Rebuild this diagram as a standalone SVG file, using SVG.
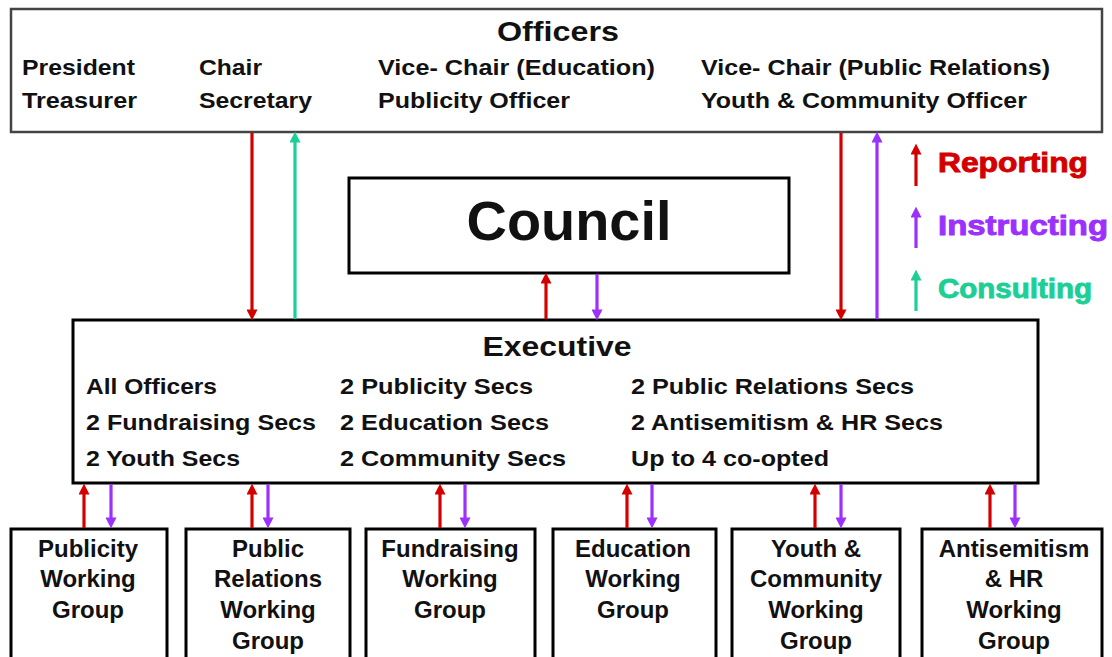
<svg xmlns="http://www.w3.org/2000/svg" width="1112" height="657" viewBox="0 0 1112 657">
<style>
  .box { fill: #ffffff; stroke: #000000; stroke-width: 3; }
  .obox { fill: #ffffff; stroke: #444444; stroke-width: 2.5; }
  text { font-family: "Liberation Sans", Arial, sans-serif; font-weight: bold; fill: #111111; }
  .title { font-size: 28px; text-anchor: middle; }
  .row { font-size: 22px; }
  .wg { font-size: 24px; text-anchor: middle; }
  .council { font-size: 56px; text-anchor: middle; }
  .leg { font-size: 27px; stroke-width: 0.9; }
  .r { stroke: #d40000; stroke-width: 3.2; fill: none; }
  .p { stroke: #9b30ff; stroke-width: 3.2; fill: none; }
  .g { stroke: #1ccf96; stroke-width: 3.2; fill: none; }
</style>
<defs>
  <marker id="ar" viewBox="0 0 10 10" refX="6" refY="5" markerWidth="11" markerHeight="11" markerUnits="userSpaceOnUse" orient="auto">
    <path d="M0,0 L10,5 L0,10 z" fill="#d40000"/>
  </marker>
  <marker id="ap" viewBox="0 0 10 10" refX="6" refY="5" markerWidth="11" markerHeight="11" markerUnits="userSpaceOnUse" orient="auto">
    <path d="M0,0 L10,5 L0,10 z" fill="#9b30ff"/>
  </marker>
  <marker id="ag" viewBox="0 0 10 10" refX="6" refY="5" markerWidth="11" markerHeight="11" markerUnits="userSpaceOnUse" orient="auto">
    <path d="M0,0 L10,5 L0,10 z" fill="#1ccf96"/>
  </marker>
</defs>
<rect width="1112" height="657" fill="#ffffff"/>

<g id="officers">
  <rect class="obox" x="11" y="9" width="1091" height="123"/>
  <text class="title" x="558" y="41" textLength="122" lengthAdjust="spacingAndGlyphs">Officers</text>
  <text class="row" x="22" y="75" textLength="113" lengthAdjust="spacingAndGlyphs">President</text>
  <text class="row" x="199" y="75" textLength="63" lengthAdjust="spacingAndGlyphs">Chair</text>
  <text class="row" x="378" y="75" textLength="277" lengthAdjust="spacingAndGlyphs">Vice- Chair (Education)</text>
  <text class="row" x="701" y="75" textLength="349" lengthAdjust="spacingAndGlyphs">Vice- Chair (Public Relations)</text>
  <text class="row" x="22" y="108" textLength="115" lengthAdjust="spacingAndGlyphs">Treasurer</text>
  <text class="row" x="199" y="108" textLength="113" lengthAdjust="spacingAndGlyphs">Secretary</text>
  <text class="row" x="378" y="108" textLength="192" lengthAdjust="spacingAndGlyphs">Publicity Officer</text>
  <text class="row" x="701" y="108" textLength="326" lengthAdjust="spacingAndGlyphs">Youth &amp; Community Officer</text>
</g>

<g id="council">
  <rect class="box" x="349" y="178" width="440" height="95"/>
  <text class="council" x="569" y="240" textLength="205" lengthAdjust="spacingAndGlyphs">Council</text>
</g>

<g id="executive">
  <rect class="box" x="73" y="320" width="965" height="163"/>
  <text class="title" x="557" y="356" textLength="149" lengthAdjust="spacingAndGlyphs">Executive</text>
  <text class="row" x="86" y="394" textLength="131" lengthAdjust="spacingAndGlyphs">All Officers</text>
  <text class="row" x="340" y="394" textLength="193" lengthAdjust="spacingAndGlyphs">2 Publicity Secs</text>
  <text class="row" x="631" y="394" textLength="283" lengthAdjust="spacingAndGlyphs">2 Public Relations Secs</text>
  <text class="row" x="86" y="430" textLength="230" lengthAdjust="spacingAndGlyphs">2 Fundraising Secs</text>
  <text class="row" x="340" y="430" textLength="209" lengthAdjust="spacingAndGlyphs">2 Education Secs</text>
  <text class="row" x="631" y="430" textLength="312" lengthAdjust="spacingAndGlyphs">2 Antisemitism &amp; HR Secs</text>
  <text class="row" x="86" y="466" textLength="154" lengthAdjust="spacingAndGlyphs">2 Youth Secs</text>
  <text class="row" x="340" y="466" textLength="226" lengthAdjust="spacingAndGlyphs">2 Community Secs</text>
  <text class="row" x="631" y="466" textLength="198" lengthAdjust="spacingAndGlyphs">Up to 4 co-opted</text>
</g>

<g id="wg-publicity">
  <rect class="box" x="11" y="529" width="156" height="140"/>
  <text class="wg" x="88" y="557">Publicity</text>
  <text class="wg" x="88" y="587">Working</text>
  <text class="wg" x="88" y="618">Group</text>
</g>
<g id="wg-public-relations">
  <rect class="box" x="186" y="529" width="164" height="140"/>
  <text class="wg" x="268" y="557">Public</text>
  <text class="wg" x="268" y="587">Relations</text>
  <text class="wg" x="268" y="618">Working</text>
  <text class="wg" x="268" y="649">Group</text>
</g>
<g id="wg-fundraising">
  <rect class="box" x="366" y="529" width="169" height="140"/>
  <text class="wg" x="450" y="557">Fundraising</text>
  <text class="wg" x="450" y="587">Working</text>
  <text class="wg" x="450" y="618">Group</text>
</g>
<g id="wg-education">
  <rect class="box" x="553" y="529" width="163" height="140"/>
  <text class="wg" x="633" y="557">Education</text>
  <text class="wg" x="633" y="587">Working</text>
  <text class="wg" x="633" y="618">Group</text>
</g>
<g id="wg-youth">
  <rect class="box" x="732" y="529" width="168" height="140"/>
  <text class="wg" x="816" y="557">Youth &amp;</text>
  <text class="wg" x="816" y="587">Community</text>
  <text class="wg" x="816" y="618">Working</text>
  <text class="wg" x="816" y="649">Group</text>
</g>
<g id="wg-antisemitism">
  <rect class="box" x="922" y="529" width="180" height="140"/>
  <text class="wg" x="1014" y="557">Antisemitism</text>
  <text class="wg" x="1014" y="587">&amp; HR</text>
  <text class="wg" x="1014" y="618">Working</text>
  <text class="wg" x="1014" y="649">Group</text>
</g>

<g id="legend">
  <line class="r" x1="916" y1="186" x2="916" y2="148" marker-end="url(#ar)"/>
  <text class="leg" x="938" y="172" style="fill:#d40000;stroke:#d40000" textLength="150" lengthAdjust="spacingAndGlyphs">Reporting</text>
  <line class="p" x1="916" y1="248" x2="916" y2="211" marker-end="url(#ap)"/>
  <text class="leg" x="938" y="235" style="fill:#9b30ff;stroke:#9b30ff" textLength="170" lengthAdjust="spacingAndGlyphs">Instructing</text>
  <line class="g" x1="916" y1="311" x2="916" y2="274" marker-end="url(#ag)"/>
  <text class="leg" x="938" y="298" style="fill:#1ccf96;stroke:#1ccf96" textLength="154" lengthAdjust="spacingAndGlyphs">Consulting</text>
</g>

<g id="connectors">
  <line class="r" x1="252" y1="133" x2="252" y2="316" marker-end="url(#ar)"/>
  <line class="g" x1="295" y1="319" x2="295" y2="136" marker-end="url(#ag)"/>
  <line class="r" x1="546" y1="319" x2="546" y2="277" marker-end="url(#ar)"/>
  <line class="p" x1="597" y1="274" x2="597" y2="316" marker-end="url(#ap)"/>
  <line class="r" x1="841" y1="133" x2="841" y2="316" marker-end="url(#ar)"/>
  <line class="p" x1="877" y1="319" x2="877" y2="136" marker-end="url(#ap)"/>

  <line class="r" x1="84" y1="528" x2="84" y2="488" marker-end="url(#ar)"/>
  <line class="p" x1="111" y1="484" x2="111" y2="524" marker-end="url(#ap)"/>
  <line class="r" x1="252" y1="528" x2="252" y2="488" marker-end="url(#ar)"/>
  <line class="p" x1="268" y1="484" x2="268" y2="524" marker-end="url(#ap)"/>
  <line class="r" x1="440" y1="528" x2="440" y2="488" marker-end="url(#ar)"/>
  <line class="p" x1="465" y1="484" x2="465" y2="524" marker-end="url(#ap)"/>
  <line class="r" x1="627" y1="528" x2="627" y2="488" marker-end="url(#ar)"/>
  <line class="p" x1="652" y1="484" x2="652" y2="524" marker-end="url(#ap)"/>
  <line class="r" x1="815" y1="528" x2="815" y2="488" marker-end="url(#ar)"/>
  <line class="p" x1="841" y1="484" x2="841" y2="524" marker-end="url(#ap)"/>
  <line class="r" x1="990" y1="528" x2="990" y2="488" marker-end="url(#ar)"/>
  <line class="p" x1="1015" y1="484" x2="1015" y2="524" marker-end="url(#ap)"/>
</g>
</svg>
